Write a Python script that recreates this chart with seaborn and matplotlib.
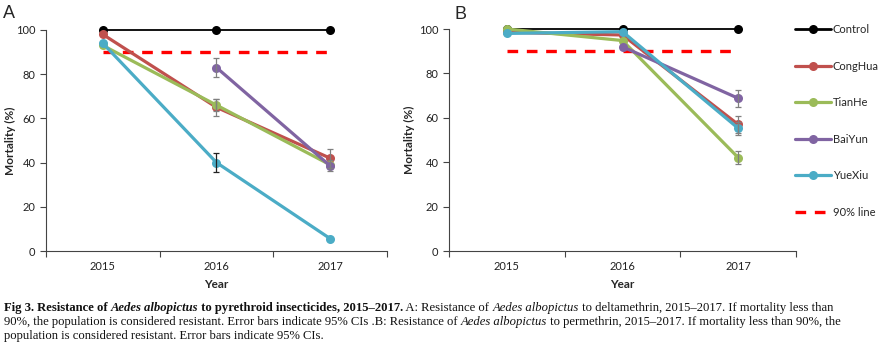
import numpy as np
import pandas as pd
import matplotlib
matplotlib.use("Agg")
import matplotlib.pyplot as plt
from matplotlib.lines import Line2D
import seaborn as sns

# ---------------- data ----------------
years = ["2015", "2016", "2017"]
series = ["Control", "CongHua", "TianHe", "BaiYun", "YueXiu"]

# Panel A: deltamethrin
a_control = [100, 100, 100]
a_conghua = [98, 65, 42]
a_tianhe = [93, 66, 39]
a_baiyun = [np.nan, 83, 38.5]
a_yuexiu = [94, 40, 5.6]
a_err_conghua = [0, 4, 4.3]
a_err_tianhe = [0, 2.8, 0]
a_err_baiyun = [0, 4.2, 2.5]
a_err_yuexiu = [0, 4.3, 0]

# Panel B: permethrin
b_control = [100, 100, 100]
b_conghua = [98.5, 97.3, 57]
b_tianhe = [100, 94.8, 42.1]
b_baiyun = [np.nan, 92, 68.8]
b_yuexiu = [98, 98.8, 55.3]
b_err_conghua = [0, 0, 4]
b_err_tianhe = [0, 0, 3]
b_err_baiyun = [0, 0, 3.9]
b_err_yuexiu = [0, 0, 3]

threshold = [90, 90, 90]

# ---------------- style ----------------
colors = {"Control": "#000000", "CongHua": "#C0504D", "TianHe": "#9BBB59",
          "BaiYun": "#8064A2", "YueXiu": "#4BACC6"}
lws = {"Control": 1.3, "CongHua": 2.3, "TianHe": 2.3, "BaiYun": 2.3, "YueXiu": 2.3}
ecolors_a = {"CongHua": "#7f7f7f", "TianHe": "#7f7f7f", "BaiYun": "#7f7f7f", "YueXiu": "#222222"}
ecolors_b = {"CongHua": "#7f7f7f", "TianHe": "#7f7f7f", "BaiYun": "#7f7f7f", "YueXiu": "#7f7f7f"}

sns.set_style("ticks")
plt.rcParams["font.family"] = ["Lato", "DejaVu Sans"]

W, H = 879, 348
fig = plt.figure(figsize=(W / 100, H / 100), dpi=100)
axA = fig.add_axes([46 / W, 1 - 251 / H, 341 / W, 221 / H])
axB = fig.add_axes([449 / W, 1 - 251 / H, 347 / W, 222 / H])

pos = np.arange(len(years)) + 0.5


def draw(ax, vals, errs, ecol, ylab_x):
    for name in series:
        v = np.array(vals[name], dtype=float)
        df = pd.DataFrame({"x": pos, "y": v}).dropna()
        sns.lineplot(data=df, x="x", y="y", ax=ax, color=colors[name],
                     lw=lws[name], marker="o", markersize=6.5,
                     markeredgewidth=0, clip_on=False, zorder=3)
        if name in errs:
            e = np.array(errs[name], dtype=float)
            m = (e > 0) & ~np.isnan(v)
            ax.errorbar(pos[m], v[m], yerr=e[m], fmt="none", ecolor=ecol[name],
                        elinewidth=0.9, capsize=2.5, capthick=0.9, zorder=4)
    df = pd.DataFrame({"x": pos, "y": threshold})
    sns.lineplot(data=df, x="x", y="y", ax=ax, color="#FF0000", lw=2.4,
                 dashes=(3.2, 2.6), zorder=2)
    ax.set_xlim(0, len(years))
    ax.set_ylim(0, 100)
    ax.set_yticks([0, 20, 40, 60, 80, 100])
    ax.set_xticks(np.arange(len(years) + 1))
    ax.set_xticklabels([])
    ax.set_xticks(pos, minor=True)
    ax.set_xticklabels(years, minor=True)
    ax.tick_params(axis="x", which="major", length=4, width=0.8, color="#444444")
    ax.tick_params(axis="x", which="minor", length=0, pad=7, labelsize=8, labelcolor="#222222")
    ax.tick_params(axis="y", length=4, width=0.8, labelsize=8, labelcolor="#222222", color="#444444")
    for s in ["top", "right"]:
        ax.spines[s].set_visible(False)
    for s in ["left", "bottom"]:
        ax.spines[s].set_linewidth(0.8)
        ax.spines[s].set_color("#444444")
    ax.set_xlabel("Year", fontsize=8.5, fontweight="bold", labelpad=5)
    ax.set_ylabel("Mortality (%)", fontsize=8.5, fontweight="bold")
    ax.yaxis.set_label_coords(ylab_x, 0.5)


valsA = dict(zip(series, [a_control, a_conghua, a_tianhe, a_baiyun, a_yuexiu]))
errsA = {"CongHua": a_err_conghua, "TianHe": a_err_tianhe, "BaiYun": a_err_baiyun, "YueXiu": a_err_yuexiu}
valsB = dict(zip(series, [b_control, b_conghua, b_tianhe, b_baiyun, b_yuexiu]))
errsB = {"CongHua": b_err_conghua, "TianHe": b_err_tianhe, "BaiYun": b_err_baiyun, "YueXiu": b_err_yuexiu}

draw(axA, valsA, errsA, ecolors_a, (16 - 46) / 341)
draw(axB, valsB, errsB, ecolors_b, (415 - 449) / 347)

# legend
handles = [Line2D([0], [0], color=colors[n], lw=lws[n] if n != "Control" else 2.0,
                  marker="o", markersize=6.5, markeredgewidth=0) for n in series]
handles.append(Line2D([0], [0], color="#FF0000", lw=2.4, dashes=(3.2, 2.6)))
labels = series + ["90% line"]
fig.legend(handles, labels, loc="upper left", bbox_to_anchor=(795 / W, 1 - 24 / H),
           frameon=False, fontsize=8, handlelength=3.2, handletextpad=0.2,
           labelspacing=2.3, borderaxespad=0, borderpad=0)

# panel letters
fig.text(3 / W, 1 - 18 / H, "A", fontsize=13, family="Liberation Sans")
fig.text(455 / W, 1 - 19 / H, "B", fontsize=13, family="Liberation Sans")

# caption
fig.canvas.draw()
renderer = fig.canvas.get_renderer()
CAP_FONT = "Liberation Serif"


def measure(txt, size, weight, style):
    t = fig.text(0, 0, txt, fontsize=size, fontweight=weight, fontstyle=style, family=CAP_FONT)
    w = t.get_window_extent(renderer).width
    t.remove()
    return w


def advance(txt, size, weight, style):
    return measure("|" + txt + "|", size, weight, style) - measure("||", size, weight, style)


def rich_line(y_px, segs, size, x_px=4):
    x = x_px
    for txt, weight, style in segs:
        fig.text(x / W, 1 - y_px / H, txt, fontsize=size, fontweight=weight,
                 fontstyle=style, family=CAP_FONT, va="baseline", color="#111111")
        x += advance(txt, size, weight, style)


line1 = [("Fig 3. Resistance of ", "bold", "normal"), ("Aedes albopictus", "bold", "italic"),
         (" to pyrethroid insecticides, 2015–2017.", "bold", "normal"),
         (" A: Resistance of ", "normal", "normal"), ("Aedes albopictus", "normal", "italic"),
         (" to deltamethrin, 2015–2017. If mortality less than", "normal", "normal")]
line2 = [("90%, the population is considered resistant. Error bars indicate 95% CIs .B: Resistance of ", "normal", "normal"),
         ("Aedes albopictus", "normal", "italic"),
         (" to permethrin, 2015–2017. If mortality less than 90%, the", "normal", "normal")]
line3 = [("population is considered resistant. Error bars indicate 95% CIs.", "normal", "normal")]

# fit caption size to the reference line width
base = 10.0
w1 = sum(advance(t, base, wt, st) for t, wt, st in line1)
size = base * 831 / w1
rich_line(311, line1, size)
rich_line(325, line2, size)
rich_line(339, line3, size)

fig.savefig("out.png", dpi=100)
